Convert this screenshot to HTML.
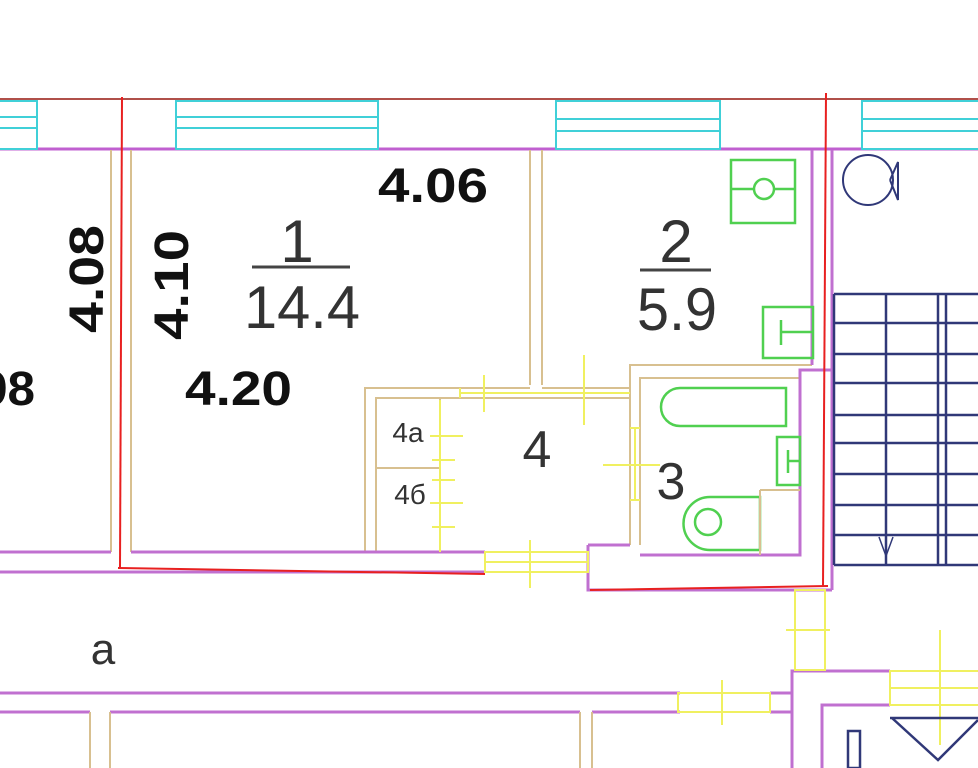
<!DOCTYPE html>
<html><head><meta charset="utf-8"><style>
html,body{margin:0;padding:0;background:#fff;}
svg{display:block}
text{font-family:"Liberation Sans",sans-serif;}
</style></head><body>
<svg width="978" height="768" viewBox="0 0 978 768" xmlns="http://www.w3.org/2000/svg">
<rect width="978" height="768" fill="#fff"/>
<line x1="0" y1="99" x2="978" y2="99" stroke="#b0504a" stroke-width="2"/>
<line x1="0" y1="149" x2="978" y2="149" stroke="#c060d0" stroke-width="3"/>
<g stroke="#40d0d8" stroke-width="2" fill="#fff">
<rect x="-2" y="101" width="39" height="48"/><line x1="0" y1="117" x2="37" y2="117"/><line x1="0" y1="128" x2="37" y2="128"/>
<rect x="176" y="101" width="202" height="48"/><line x1="176" y1="117" x2="378" y2="117"/><line x1="176" y1="128" x2="378" y2="128"/>
<rect x="556" y="101" width="164" height="48"/><line x1="556" y1="119" x2="720" y2="119"/><line x1="556" y1="131" x2="720" y2="131"/>
<rect x="862" y="101" width="120" height="48"/><line x1="862" y1="119" x2="978" y2="119"/><line x1="862" y1="131" x2="978" y2="131"/>
</g>
<g stroke="#d8c090" stroke-width="2" fill="none">
<line x1="111" y1="150" x2="111" y2="552"/><line x1="131" y1="150" x2="131" y2="552"/>
<line x1="530" y1="150" x2="530" y2="385"/><line x1="542" y1="150" x2="542" y2="385"/>
<polyline points="365,552 365,388 460,388"/><polyline points="376,552 376,398 460,398"/>
<line x1="440" y1="398" x2="440" y2="552"/><line x1="376" y1="468" x2="440" y2="468"/>
<polyline points="630,545 630,365 812,365"/><polyline points="640,545 640,378 800,378"/>
<line x1="460" y1="388" x2="530" y2="388"/><line x1="542" y1="388" x2="630" y2="388"/>
<line x1="460" y1="398" x2="630" y2="398"/>
</g>
<g stroke="#c070d0" stroke-width="3" fill="none">
<line x1="0" y1="552" x2="111" y2="552"/><line x1="131" y1="552" x2="485" y2="552"/>
<line x1="0" y1="572" x2="485" y2="572"/>
<line x1="812" y1="150" x2="812" y2="365"/><line x1="832" y1="150" x2="832" y2="590"/>
<polyline points="588,545 588,590 832,590"/>
<polyline points="640,555 800,555 800,370 832,370"/>
<polyline points="588,545 630,545"/>
<line x1="0" y1="693" x2="680" y2="693"/><line x1="770" y1="693" x2="792" y2="693"/>
<line x1="0" y1="712" x2="90" y2="712"/><line x1="110" y1="712" x2="580" y2="712"/><line x1="592" y1="712" x2="680" y2="712"/><line x1="770" y1="712" x2="792" y2="712"/>
<polyline points="792,768 792,671 890,671"/><polyline points="822,768 822,705 890,705"/>
</g>
<g stroke="#d8c090" stroke-width="2"><line x1="90" y1="712" x2="90" y2="768"/><line x1="110" y1="712" x2="110" y2="768"/><line x1="580" y1="712" x2="580" y2="768"/><line x1="592" y1="712" x2="592" y2="768"/></g>
<g stroke="#f0f060" stroke-width="2" fill="none">
<rect x="485" y="552" width="103" height="20"/><line x1="530" y1="540" x2="530" y2="588"/><line x1="485" y1="562" x2="588" y2="562"/>
<rect x="795" y="590" width="30" height="80"/><line x1="786" y1="630" x2="830" y2="630"/>
<rect x="678" y="693" width="92" height="19"/><line x1="722" y1="680" x2="722" y2="725"/>
<rect x="890" y="671" width="90" height="34"/><line x1="940" y1="630" x2="940" y2="745"/><line x1="890" y1="688" x2="978" y2="688"/>
<line x1="460" y1="388" x2="460" y2="398"/><line x1="484" y1="375" x2="484" y2="412"/><line x1="584" y1="355" x2="584" y2="425"/><line x1="460" y1="393" x2="630" y2="393"/>
<line x1="630" y1="428" x2="640" y2="428"/><line x1="630" y1="500" x2="640" y2="500"/><line x1="603" y1="465" x2="660" y2="465"/><line x1="635" y1="428" x2="635" y2="500"/>
<line x1="440" y1="400" x2="440" y2="552"/>
<line x1="430" y1="436" x2="463" y2="436"/><line x1="432" y1="460" x2="455" y2="460"/><line x1="430" y1="503" x2="463" y2="503"/><line x1="432" y1="527" x2="455" y2="527"/><line x1="432" y1="480" x2="455" y2="480"/>
</g>
<g stroke="#303878" stroke-width="2.5" fill="none">
<line x1="834" y1="294" x2="834" y2="565"/><line x1="886" y1="294" x2="886" y2="565"/><line x1="938" y1="294" x2="938" y2="565"/><line x1="946" y1="294" x2="946" y2="565"/>
<line x1="834" y1="294" x2="978" y2="294"/><line x1="834" y1="323" x2="978" y2="323"/><line x1="834" y1="354" x2="978" y2="354"/><line x1="834" y1="383" x2="978" y2="383"/><line x1="834" y1="415" x2="978" y2="415"/><line x1="834" y1="443" x2="978" y2="443"/><line x1="834" y1="474" x2="978" y2="474"/><line x1="834" y1="505" x2="978" y2="505"/><line x1="834" y1="535" x2="978" y2="535"/><line x1="834" y1="565" x2="978" y2="565"/>
<polyline points="879,537 886,556 893,537" stroke-width="1.5"/>
<circle cx="868" cy="180" r="25" stroke-width="2"/><polyline points="890,180 898,162 898,200 890,180" stroke-width="2"/>
<rect x="848" y="731" width="12" height="37"/><polyline points="890,718 978,718"/><polyline points="892,718 938,760 978,720"/>
</g>
<g stroke="#50d050" stroke-width="2.5" fill="none">
<rect x="731" y="160" width="64" height="63"/><line x1="731" y1="189" x2="795" y2="189"/><circle cx="764" cy="189" r="10" fill="#fff"/>
<rect x="763" y="307" width="50" height="51"/><line x1="781" y1="332" x2="812" y2="332"/><line x1="781" y1="320" x2="781" y2="345"/>
<path d="M680 388 H786 V426 H680 A19 19 0 0 1 680 388 Z"/>
<rect x="777" y="437" width="23" height="48"/><line x1="788" y1="461" x2="800" y2="461"/><line x1="788" y1="450" x2="788" y2="473"/>
<path d="M710 497 H760 V550 H710 A26 26 0 0 1 710 497 Z"/><circle cx="708" cy="522" r="13"/>
</g>
<line x1="760" y1="490" x2="800" y2="490" stroke="#d8c090" stroke-width="2"/><line x1="760" y1="490" x2="760" y2="555" stroke="#d8c090" stroke-width="2"/>
<g stroke="#e82020" stroke-width="2" fill="none">
<line x1="122" y1="97" x2="120" y2="568"/><polyline points="118,568 485,574"/>
<line x1="826" y1="93" x2="823" y2="586"/><polyline points="590,590 828,586"/>
</g>
<g fill="#111" font-weight="bold" font-size="48">
<text x="378" y="202" textLength="110" lengthAdjust="spacingAndGlyphs">4.06</text>
<text x="185" y="405" textLength="107" lengthAdjust="spacingAndGlyphs">4.20</text>
<text x="-20" y="405" textLength="55" lengthAdjust="spacingAndGlyphs">98</text>
<text transform="translate(188,340) rotate(-90)" textLength="110" lengthAdjust="spacingAndGlyphs">4.10</text>
<text transform="translate(103,333) rotate(-90)" textLength="108" lengthAdjust="spacingAndGlyphs">4.08</text>
</g>
<g fill="#333" font-size="60" text-anchor="middle">
<text x="297" y="262">1</text><line x1="252" y1="267" x2="350" y2="267" stroke="#444" stroke-width="3"/>
<text x="302" y="328" textLength="116" lengthAdjust="spacingAndGlyphs">14.4</text>
<text x="676" y="262">2</text><line x1="640" y1="270" x2="711" y2="270" stroke="#444" stroke-width="3"/>
<text x="677" y="330" textLength="80" lengthAdjust="spacingAndGlyphs">5.9</text>
<text x="537" y="467" font-size="52">4</text>
<text x="671" y="499" font-size="52">3</text>
<text x="103" y="664" font-size="44">а</text>
<text x="408" y="442" font-size="28">4а</text>
<text x="410" y="504" font-size="28">4б</text>
</g>
</svg>
</body></html>
